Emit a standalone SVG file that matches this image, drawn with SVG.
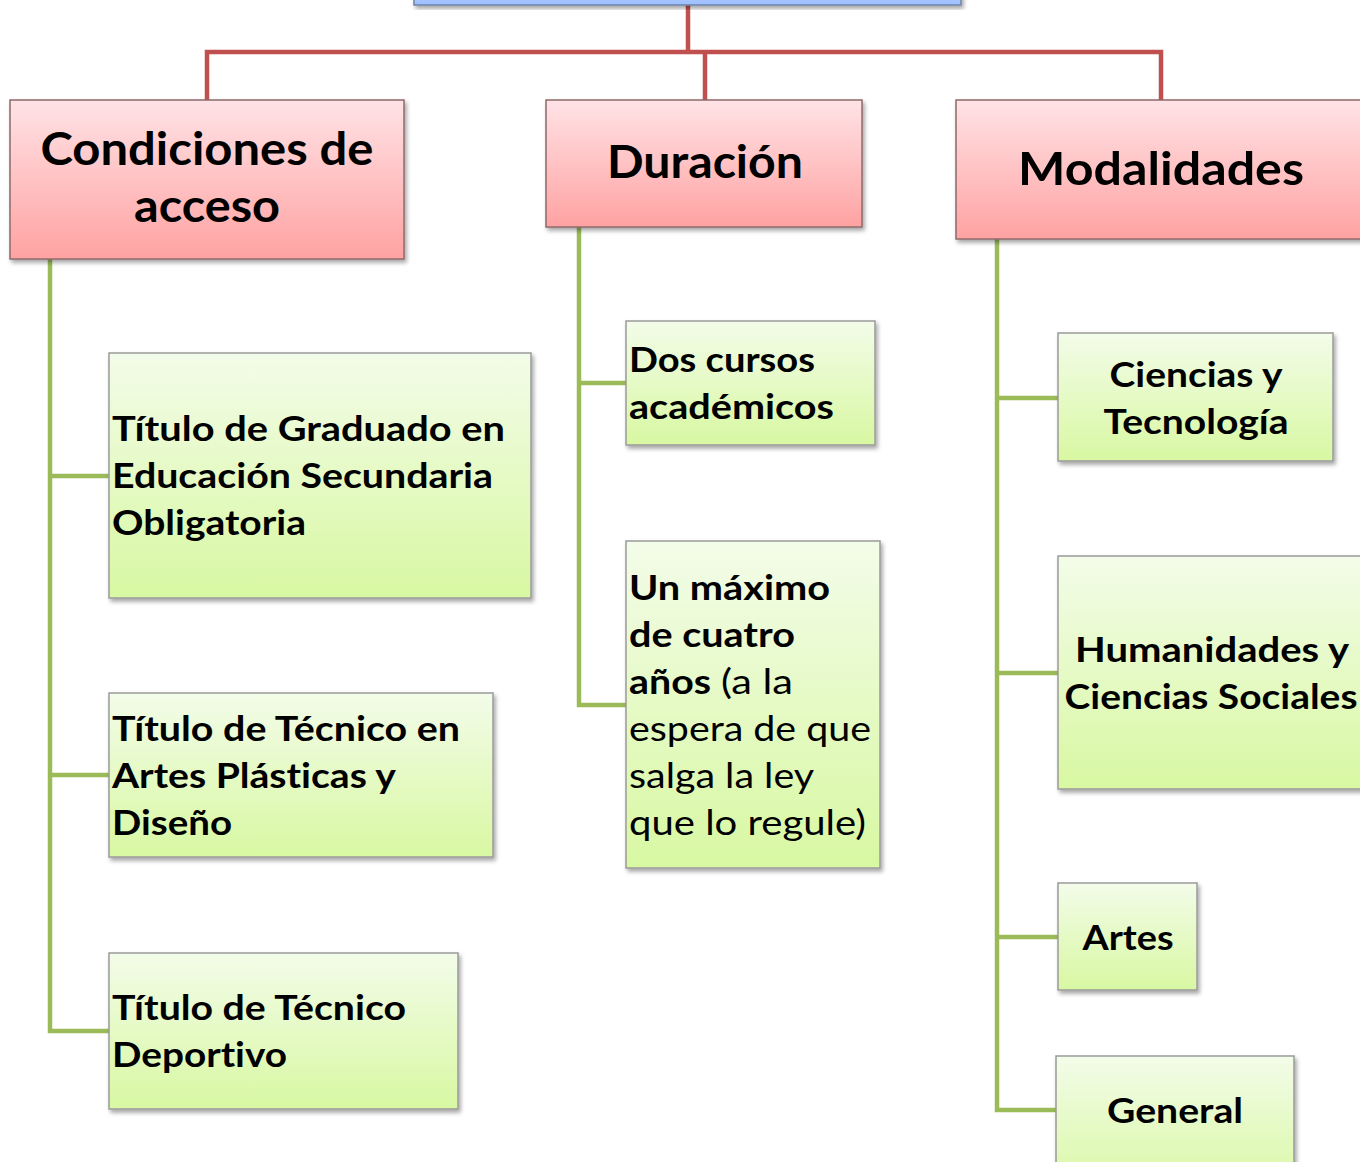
<svg xmlns="http://www.w3.org/2000/svg" width="1360" height="1162" viewBox="0 0 1360 1162">
<defs>
<linearGradient id="gPink" x1="0" y1="0" x2="0" y2="1"><stop offset="0" stop-color="#ffe3e6"/><stop offset="1" stop-color="#ffa2a2"/></linearGradient>
<linearGradient id="gGreen" x1="0" y1="0" x2="0" y2="1"><stop offset="0" stop-color="#f3fce9"/><stop offset="1" stop-color="#d8f8a2"/></linearGradient>
<linearGradient id="gBlue" x1="0" y1="0" x2="0" y2="1"><stop offset="0" stop-color="#c6dbff"/><stop offset="1" stop-color="#9dbfff"/></linearGradient>
<filter id="sh" x="-10%" y="-10%" width="130%" height="130%"><feDropShadow dx="2" dy="3" stdDeviation="2" flood-color="#000" flood-opacity="0.35"/></filter>
</defs>
<style>
.pink{fill:url(#gPink);stroke:#8e6a6a;stroke-width:1.5;filter:url(#sh)}
.green{fill:url(#gGreen);stroke:#9a9a9a;stroke-width:1.5;filter:url(#sh)}
.blue{fill:url(#gBlue);stroke:#6f83a8;stroke-width:1.5;filter:url(#sh)}
text{font-family:Lato,"Open Sans","Liberation Sans",sans-serif;fill:#000;font-variant-ligatures:none}
.t{font-size:46px;font-weight:bold}
.b{font-size:35px;font-weight:bold}
.r{font-size:35px;font-weight:normal}
.mid{text-anchor:middle}
.red{fill:none;stroke:#c0504d;stroke-width:4.5}
.grn{fill:none;stroke:#9bbb59;stroke-width:4.5}
</style>
<g id="connectors">
<path class="red" d="M688,5 V52 M207,100 V52 H1161 V100 M705,52 V100"/>
<path class="grn" d="M50,259 V1031 H110 M50,476 H110 M50,775 H110"/>
<path class="grn" d="M579,227 V705 H627 M579,383 H627"/>
<path class="grn" d="M997,239 V1110 H1057 M997,398 H1059 M997,673 H1059 M997,937 H1059"/>
</g>
<g id="root"><rect class="blue" x="414" y="-20" width="547" height="25"/></g>
<g id="condiciones">
<rect class="pink" x="10" y="100" width="394" height="159"/>
<text class="t mid" x="207" y="165" textLength="333" lengthAdjust="spacingAndGlyphs">Condiciones de</text>
<text class="t mid" x="207" y="222" textLength="146" lengthAdjust="spacingAndGlyphs">acceso</text>
</g>
<g id="duracion">
<rect class="pink" x="546" y="100" width="316" height="127"/>
<text class="t mid" x="705" y="178" textLength="196" lengthAdjust="spacingAndGlyphs">Duración</text>
</g>
<g id="modalidades">
<rect class="pink" x="956" y="100" width="420" height="139"/>
<text class="t mid" x="1161" y="185" textLength="286" lengthAdjust="spacingAndGlyphs">Modalidades</text>
</g>
<g id="graduado">
<rect class="green" x="109" y="353" width="422" height="245"/>
<text class="b" x="112" y="441" textLength="393" lengthAdjust="spacingAndGlyphs">Título de Graduado en</text>
<text class="b" x="112" y="488" textLength="381" lengthAdjust="spacingAndGlyphs">Educación Secundaria</text>
<text class="b" x="112" y="535" textLength="194" lengthAdjust="spacingAndGlyphs">Obligatoria</text>
</g>
<g id="artes-plasticas">
<rect class="green" x="109" y="693" width="384" height="164"/>
<text class="b" x="112" y="741" textLength="348" lengthAdjust="spacingAndGlyphs">Título de Técnico en</text>
<text class="b" x="112" y="788" textLength="284" lengthAdjust="spacingAndGlyphs">Artes Plásticas y</text>
<text class="b" x="112" y="835" textLength="120" lengthAdjust="spacingAndGlyphs">Diseño</text>
</g>
<g id="deportivo">
<rect class="green" x="109" y="953" width="349" height="156"/>
<text class="b" x="112" y="1020" textLength="294" lengthAdjust="spacingAndGlyphs">Título de Técnico</text>
<text class="b" x="112" y="1067" textLength="175" lengthAdjust="spacingAndGlyphs">Deportivo</text>
</g>
<g id="dos-cursos">
<rect class="green" x="626" y="321" width="249" height="124"/>
<text class="b" x="629" y="372" textLength="186" lengthAdjust="spacingAndGlyphs">Dos cursos</text>
<text class="b" x="629" y="419" textLength="205" lengthAdjust="spacingAndGlyphs">académicos</text>
</g>
<g id="maximo">
<rect class="green" x="626" y="541" width="254" height="327"/>
<text class="b" x="629" y="600" textLength="201" lengthAdjust="spacingAndGlyphs">Un máximo</text>
<text class="b" x="629" y="647" textLength="166" lengthAdjust="spacingAndGlyphs">de cuatro</text>
<text class="b" x="629" y="694" textLength="82" lengthAdjust="spacingAndGlyphs">años</text>
<text class="r" x="721" y="694" textLength="72" lengthAdjust="spacingAndGlyphs">(a la</text>
<text class="r" x="629" y="741" textLength="242" lengthAdjust="spacingAndGlyphs">espera de que</text>
<text class="r" x="629" y="788" textLength="185" lengthAdjust="spacingAndGlyphs">salga la ley</text>
<text class="r" x="629" y="835" textLength="237" lengthAdjust="spacingAndGlyphs">que lo regule)</text>
</g>
<g id="ciencias-tecnologia">
<rect class="green" x="1058" y="333" width="275" height="128"/>
<text class="b mid" x="1196" y="387" textLength="173" lengthAdjust="spacingAndGlyphs">Ciencias y</text>
<text class="b mid" x="1196" y="434" textLength="185" lengthAdjust="spacingAndGlyphs">Tecnología</text>
</g>
<g id="humanidades">
<rect class="green" x="1058" y="556" width="320" height="233"/>
<text class="b mid" x="1212" y="662" textLength="274" lengthAdjust="spacingAndGlyphs">Humanidades y</text>
<text class="b mid" x="1211" y="709" textLength="293" lengthAdjust="spacingAndGlyphs">Ciencias Sociales</text>
</g>
<g id="artes">
<rect class="green" x="1058" y="883" width="139" height="107"/>
<text class="b mid" x="1128" y="950" textLength="91" lengthAdjust="spacingAndGlyphs">Artes</text>
</g>
<g id="general">
<rect class="green" x="1056" y="1056" width="238" height="140"/>
<text class="b mid" x="1175" y="1123" textLength="136" lengthAdjust="spacingAndGlyphs">General</text>
</g>
</svg>
